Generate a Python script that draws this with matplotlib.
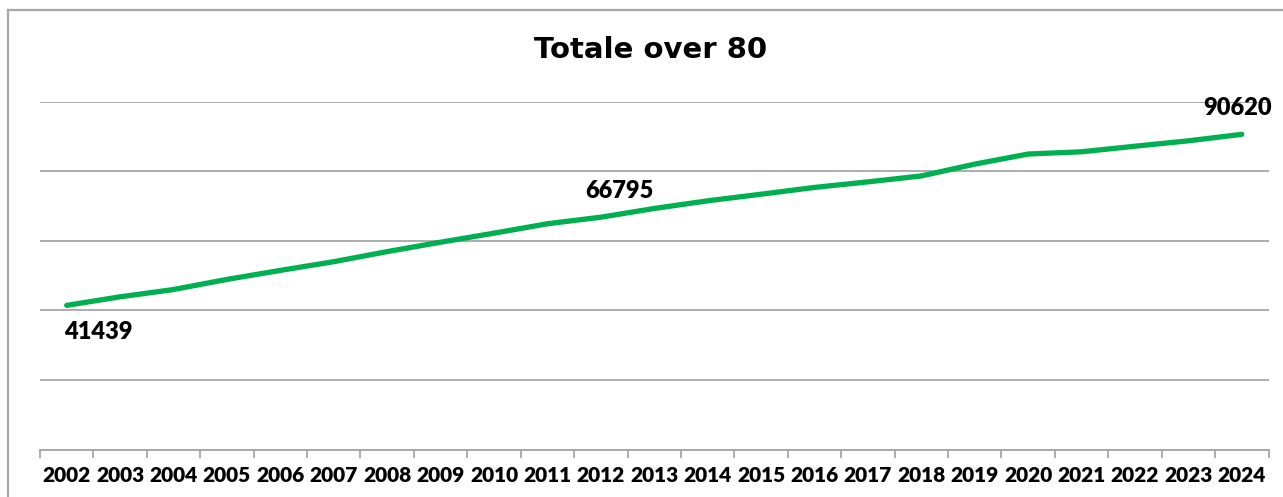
import matplotlib
matplotlib.use("Agg")
import matplotlib.pyplot as plt
from matplotlib.lines import Line2D

years = [str(y) for y in range(2002, 2025)]
values = [41439, 43900, 46000, 48900, 51500, 54000, 56900, 59600, 62200, 64900,
          66795, 69300, 71500, 73400, 75350, 76950, 78650, 82050, 84950, 85600,
          87200, 88750, 90620]
# index -> pixel offset of the data label relative to the point
labelled = {0: (32, -27), 10: (19, 26), 22: (-4, 26)}

W, H = 1283, 497
fig = plt.figure(figsize=(W / 100, H / 100), dpi=100)
fig.patch.set_facecolor("white")

# chart frame (top and left)
fig.add_artist(Line2D([8 / W, 1283 / W], [1 - 9.5 / H, 1 - 9.5 / H], color="#a6a6a6", lw=1.6))
fig.add_artist(Line2D([8 / W, 8 / W], [1 - 9.5 / H, 0], color="#a6a6a6", lw=1.6))

left, right = 40 / W, 1268.5 / W
bottom, top = 1 - 449.5 / H, 1 - 101.7 / H
ax = fig.add_axes([left, bottom, right - left, top - bottom])

x = list(range(len(years)))
ax.plot(x, values, color="#00B050", lw=3.8, solid_capstyle="round", zorder=3)
ax.set_xlim(-0.5, len(years) - 0.5)
ax.set_ylim(0, 100000)
ax.set_yticks([0, 20000, 40000, 60000, 80000, 100000])
ax.yaxis.grid(True, color="#a6a6a6", lw=1.3)
ax.set_axisbelow(True)
ax.tick_params(axis="y", left=False, labelleft=False)
for s in ["top", "right", "left"]:
    ax.spines[s].set_visible(False)
ax.spines["bottom"].set_color("#a6a6a6")
ax.spines["bottom"].set_linewidth(1.3)

ax.set_xticks([i - 0.5 for i in range(len(years) + 1)], minor=False)
ax.set_xticklabels([])
ax.tick_params(axis="x", which="major", direction="out", length=6, color="#a6a6a6", width=1.3)
ax.set_xticks(x, minor=True)
ax.set_xticklabels(years, minor=True, fontfamily="Lato", fontweight="heavy", fontsize=15, color="black")
ax.tick_params(axis="x", which="minor", length=0, pad=12)

for i, (dx, dy) in labelled.items():
    ax.annotate(str(values[i]), (x[i], values[i]), xytext=(dx, dy), textcoords="offset pixels",
                ha="center", va="center", fontfamily="Lato", fontweight="heavy", fontsize=17)

fig.text(651 / W, 1 - 50 / H, "Totale over 80", ha="center", va="center",
         fontfamily="DejaVu Sans", fontweight="bold", fontsize=21)

fig.savefig("out.png", dpi=100, facecolor="white")
